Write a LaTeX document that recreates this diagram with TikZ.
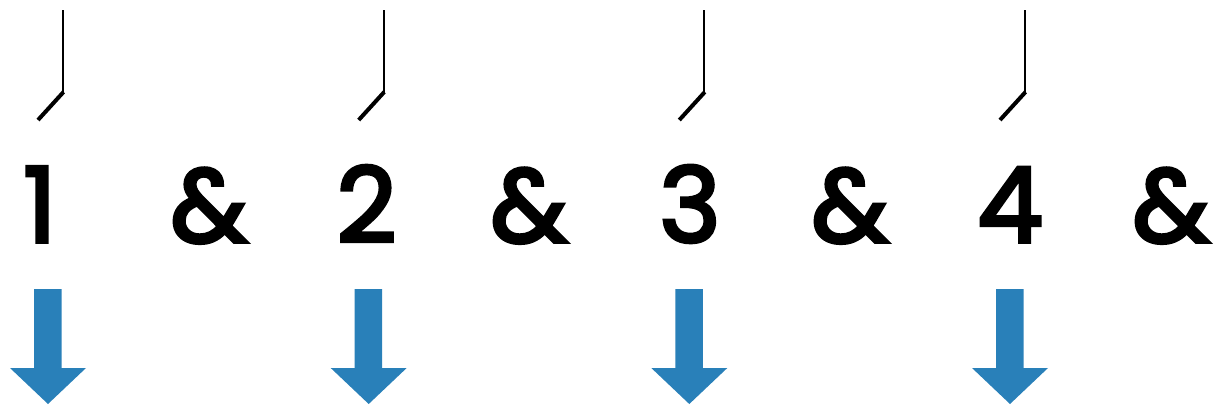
\documentclass[tikz,border=0pt]{standalone}
\usepackage{fontspec}
\newfontfamily\beatfont[FakeBold=3.5]{Poppins}
\definecolor{beatblue}{RGB}{41,128,185}
\tikzset{
  count/.style={font=\beatfont\fontsize{104}{110}\selectfont, inner sep=0pt, anchor=base},
  stemline/.style={line width=2pt, black},
  flagline/.style={line width=4pt, black, line cap=butt},
  downarrow/.style={fill=beatblue, draw=none}
}
\begin{document}
\begin{tikzpicture}[x=1pt,y=-1pt]
\useasboundingbox (0,0) rectangle (1214,405);
% counts
\node[count] (n1) at (40,242) {1};
\node[count] (a1) at (209,242) {\&};
\node[count] (n2) at (366.5,242) {2};
\node[count] (a2) at (529,242) {\&};
\node[count] (n3) at (690,242) {3};
\node[count] (a3) at (850,242) {\&};
\node[count] (n4) at (1010,242) {4};
\node[count] (a4) at (1171,242) {\&};
% stems and arrows
\foreach \c in {48,368.7,689.3,1010}{
  \draw[stemline] (\c+15,10) -- (\c+15,93);
  \draw[flagline] (\c+15.5,92) -- (\c-10,120);
  \fill[downarrow] (\c-14,289) -- (\c+13.5,289) -- (\c+13.5,368) -- (\c+38,368)
     -- (\c,404) -- (\c-38,368) -- (\c-14,368) -- cycle;
}
\end{tikzpicture}
\end{document}
